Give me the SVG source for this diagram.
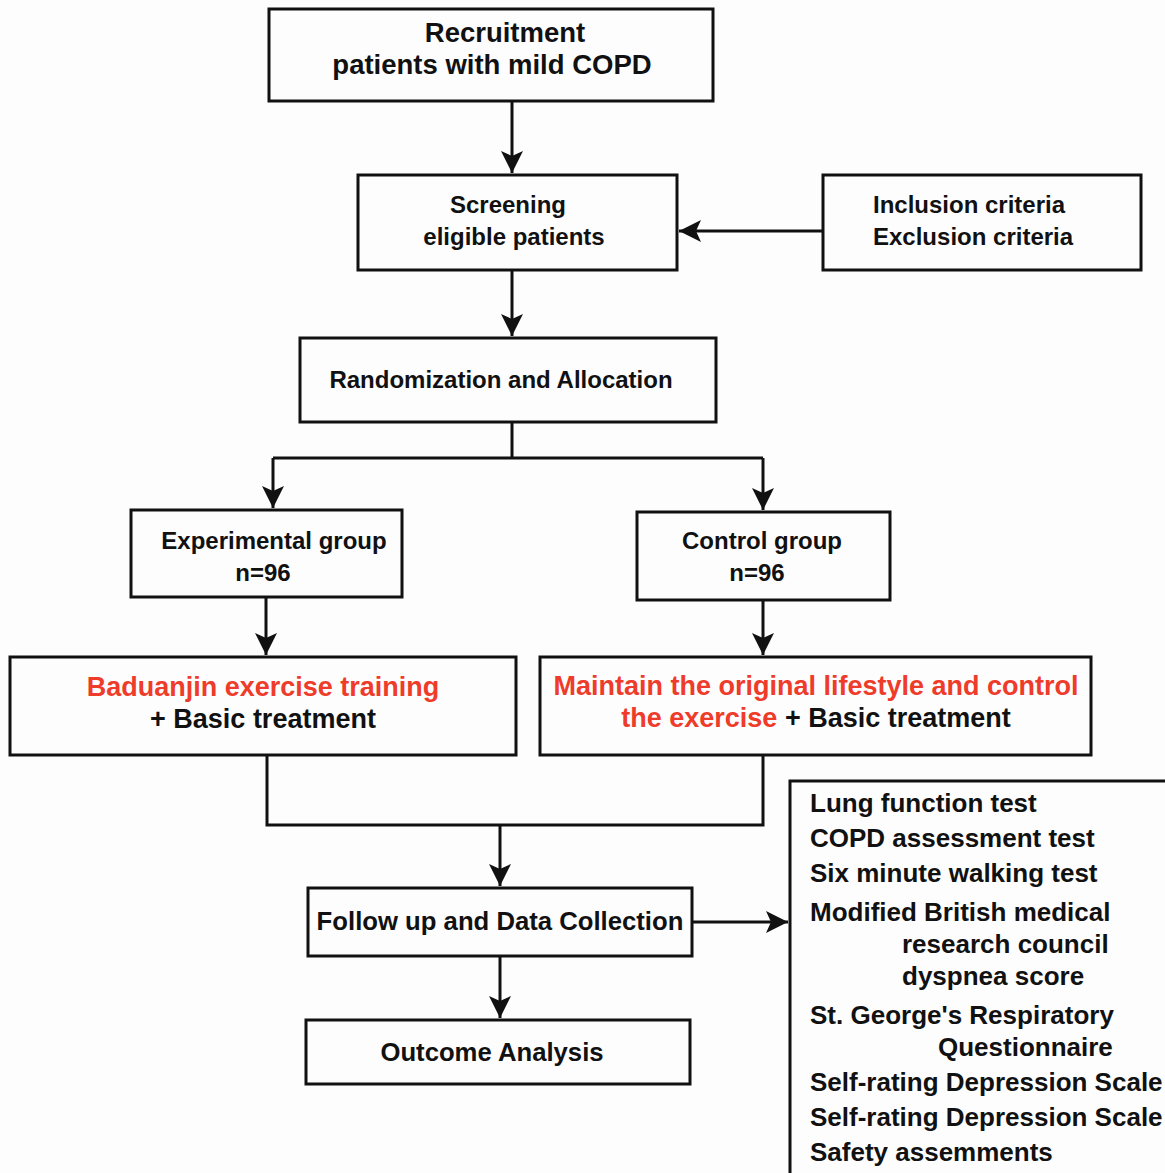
<svg xmlns="http://www.w3.org/2000/svg" width="1165" height="1173" viewBox="0 0 1165 1173">
<defs>
<style>
.box{fill:#fdfdfe;stroke:#111;stroke-width:3}
.t{font-family:"Liberation Sans",Arial,sans-serif;font-weight:bold;font-size:24px;fill:#111}
.c{text-anchor:middle}
.big{font-size:27px}
.lst{font-size:26px}
.red{fill:#ef3b2a}
.ln{fill:none;stroke:#111;stroke-width:3}
</style>
<marker id="ah" markerUnits="userSpaceOnUse" markerWidth="24" markerHeight="24" refX="22" refY="11" orient="auto" viewBox="0 0 24 22">
<path d="M0,0 L22,11 L0,22 L5,11 z" fill="#111"/>
</marker>
</defs>
<rect width="1165" height="1173" fill="#fdfdfe"/>
<g id="recruitment">
<rect class="box" x="269" y="9" width="444" height="92"/>
<text class="t c" x="505" y="42" style="font-size:27.5px">Recruitment</text>
<text class="t c" x="492" y="74" style="font-size:27.5px">patients with mild COPD</text>
</g>
<g id="screening">
<rect class="box" x="358" y="175" width="319" height="95"/>
<text class="t c" x="508" y="213">Screening</text>
<text class="t c" x="514" y="245">eligible patients</text>
</g>
<g id="criteria">
<rect class="box" x="823" y="175" width="318" height="95"/>
<text class="t" x="873" y="213">Inclusion criteria</text>
<text class="t" x="873" y="245">Exclusion criteria</text>
</g>
<g id="randomization">
<rect class="box" x="300" y="338" width="416" height="84"/>
<text class="t c" x="501" y="388">Randomization and Allocation</text>
</g>
<g id="experimental">
<rect class="box" x="131" y="510" width="271" height="87"/>
<text class="t c" x="274" y="549">Experimental group</text>
<text class="t c" x="263" y="581">n=96</text>
</g>
<g id="control">
<rect class="box" x="637" y="512" width="253" height="88"/>
<text class="t c" x="762" y="549">Control group</text>
<text class="t c" x="757" y="581">n=96</text>
</g>
<g id="baduanjin">
<rect class="box" x="10" y="657" width="506" height="98"/>
<text class="t c big red" x="263" y="696">Baduanjin exercise training</text>
<text class="t c big" x="263" y="728">+ Basic treatment</text>
</g>
<g id="maintain">
<rect class="box" x="540" y="657" width="551" height="98"/>
<text class="t c big red" x="816" y="695">Maintain the original lifestyle and control</text>
<text class="t c big" x="816" y="727"><tspan class="red">the exercise</tspan> + Basic treatment</text>
</g>
<g id="followup">
<rect class="box" x="308" y="888" width="384" height="68"/>
<text class="t c" x="500" y="930" style="font-size:25.7px">Follow up and Data Collection</text>
</g>
<g id="outcome">
<rect class="box" x="306" y="1020" width="384" height="64"/>
<text class="t c" x="492" y="1061" style="font-size:25.7px">Outcome Analysis</text>
</g>
<g id="measures">
<path class="ln" d="M790,1173 V781 H1165"/>
<text class="t lst" x="810" y="812">Lung function test</text>
<text class="t lst" x="810" y="847">COPD assessment test</text>
<text class="t lst" x="810" y="882">Six minute walking test</text>
<text class="t lst" x="810" y="921">Modified British medical</text>
<text class="t lst" x="902" y="953">research council</text>
<text class="t lst" x="902" y="985">dyspnea score</text>
<text class="t lst" x="810" y="1024">St. George's Respiratory</text>
<text class="t lst" x="938" y="1056">Questionnaire</text>
<text class="t lst" x="810" y="1091">Self-rating Depression Scale</text>
<text class="t lst" x="810" y="1126">Self-rating Depression Scale</text>
<text class="t lst" x="810" y="1161">Safety assemments</text>
</g>
<g id="connectors">
<path class="ln" d="M512,101 V173" marker-end="url(#ah)"/>
<path class="ln" d="M823,231 H679" marker-end="url(#ah)"/>
<path class="ln" d="M512,270 V336" marker-end="url(#ah)"/>
<path class="ln" d="M512,422 V458"/>
<path class="ln" d="M273,458 H763"/>
<path class="ln" d="M273,458 V508" marker-end="url(#ah)"/>
<path class="ln" d="M763,458 V510" marker-end="url(#ah)"/>
<path class="ln" d="M266,597 V655" marker-end="url(#ah)"/>
<path class="ln" d="M763,600 V655" marker-end="url(#ah)"/>
<path class="ln" d="M267,755 V825 H763 V755"/>
<path class="ln" d="M500,825 V886" marker-end="url(#ah)"/>
<path class="ln" d="M692,922 H788" marker-end="url(#ah)"/>
<path class="ln" d="M500,956 V1018" marker-end="url(#ah)"/>
</g>
</svg>
